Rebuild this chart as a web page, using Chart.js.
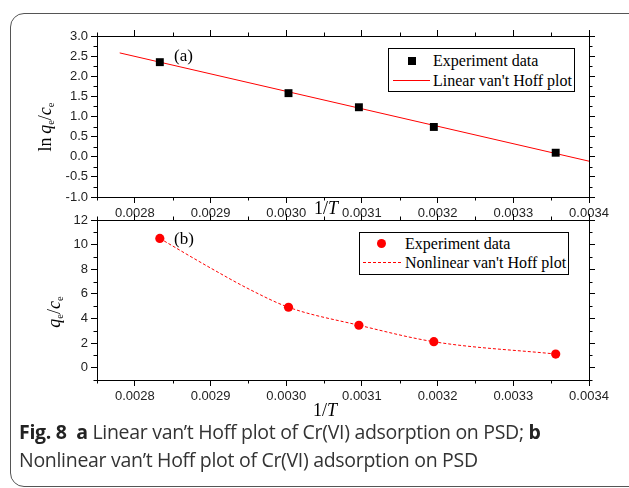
<!DOCTYPE html>
<html>
<head>
<meta charset="utf-8">
<script src="https://cdn.jsdelivr.net/npm/chart.js@4.4.1/dist/chart.umd.min.js"></script>
<style>
html,body{margin:0;padding:0;background:#fff;}
#wrap{position:relative;width:629px;height:488px;overflow:hidden;background:#fff;}
.frame{position:absolute;left:10px;top:13px;width:640px;height:472px;border:1.3px solid #555;border-radius:14px;}
canvas{position:absolute;left:0;}
.t{position:absolute;font-family:"Liberation Serif","Times New Roman",serif;color:#000;white-space:nowrap;line-height:1;}
.t sub{font-size:58%;vertical-align:-0.25em;}
.rot{transform:translate(-50%,-50%) rotate(-90deg);}
.ctr{transform:translate(-50%,-50%);}
.leg{position:absolute;border:1px solid #000;background:#fff;}
.cap{position:absolute;left:19px;font-family:"Open Sans","Noto Sans",sans-serif;font-size:19.5px;color:#333;line-height:27px;white-space:nowrap;letter-spacing:-0.3px;}
.cap b{font-weight:700;color:#222;}
</style>
</head>
<body>
<div id="wrap">
  <div class="frame"></div>
  <canvas id="ca" width="629" height="230" style="top:0px"></canvas>
  <canvas id="cb" width="629" height="230" style="top:200px"></canvas>

  <div class="t rot" style="left:46px;top:127px;font-size:18px">ln&thinsp;<i>q</i><sub>e</sub>/<i>c</i><sub>e</sub></div>
  <div class="t rot" style="left:55px;top:312px;font-size:18px"><i>q</i><sub>e</sub>/<i>c</i><sub>e</sub></div>
  <div class="t ctr" style="left:326px;top:208px;font-size:18px">1/<i>T</i></div>
  <div class="t ctr" style="left:325px;top:410px;font-size:18px">1/<i>T</i></div>
  <div class="t" style="left:174px;top:47px;font-size:17px">(a)</div>
  <div class="t" style="left:174px;top:230px;font-size:17px">(b)</div>

  <div class="leg" style="left:388px;top:48px;width:185px;height:42px">
    <div style="position:absolute;left:19px;top:8px;width:8px;height:8px;background:#000"></div>
    <div class="t" style="left:44px;top:4px;font-size:16px">Experiment data</div>
    <div style="position:absolute;left:4px;top:31px;width:37px;height:1px;background:#f00"></div>
    <div class="t" style="left:44px;top:24px;font-size:16px">Linear van't Hoff plot</div>
  </div>
  <div class="leg" style="left:359px;top:232px;width:208px;height:41px">
    <div style="position:absolute;left:17px;top:6px;width:9px;height:9px;border-radius:50%;background:#f00"></div>
    <div class="t" style="left:45px;top:3px;font-size:16px">Experiment data</div>
    <div style="position:absolute;left:3px;top:29px;width:38px;height:0;border-top:1px dashed #f00"></div>
    <div class="t" style="left:45px;top:22px;font-size:16px">Nonlinear van't Hoff plot</div>
  </div>

  <div class="cap" style="top:418px"><b>Fig. 8</b>&nbsp; <b>a</b> Linear van’t Hoff plot of Cr(VI) adsorption on PSD; <b>b</b></div>
  <div class="cap" style="top:446px">Nonlinear van’t Hoff plot of Cr(VI) adsorption on PSD</div>
</div>

<script>
// data
const invT=[0.002833,0.003003,0.003096,0.003195,0.003356];
const lnK=[2.35,1.58,1.23,0.74,0.10];
const linX=[0.00278,0.0034];
const linY=[2.58,-0.11];
const K=[10.5,4.91,3.45,2.11,1.11];
const curveX=[0.002833,0.0029,0.002952,0.003003,0.003096,0.003195,0.003356];
const curveY=[10.5,8.1,6.35,4.91,3.45,2.11,1.11];

const xTicks=[0.0028,0.0029,0.0030,0.0031,0.0032,0.0033,0.0034];
const xMinor=[0.00275,0.00285,0.00295,0.00305,0.00315,0.00325,0.00335];
const yTicksA=[-1.0,-0.5,0.0,0.5,1.0,1.5,2.0,2.5,3.0];
const yMinorA=[-0.75,-0.25,0.25,0.75,1.25,1.75,2.25,2.75];
const yTicksB=[0,2,4,6,8,10,12];
const yMinorB=[-1,1,3,5,7,9,11];

Chart.defaults.font.family='"Liberation Sans", Arial, sans-serif';
Chart.defaults.font.size=13;
Chart.defaults.color='#222';

const pts=(xs,ys)=>xs.map((x,i)=>({x:x,y:ys[i]}));

// short minor ticks, placed with the chart's scales
const minorTicks={
  id:'minorTicks',
  afterDraw(chart,args,opts){
    const ctx=chart.ctx;
    ctx.save();ctx.strokeStyle='#000';ctx.lineWidth=1;
    ctx.beginPath();
    Object.keys(opts.sets||{}).forEach(id=>{
      const sc=chart.scales[id];
      opts.sets[id].forEach(v=>{
        const p=Math.round(sc.getPixelForValue(v))+0.5;
        if(sc.position==='bottom'){ctx.moveTo(p,sc.top);ctx.lineTo(p,sc.top+3.5);}
        else if(sc.position==='top'){ctx.moveTo(p,sc.bottom);ctx.lineTo(p,sc.bottom-3.5);}
        else if(sc.position==='left'){ctx.moveTo(sc.right,p);ctx.lineTo(sc.right-3.5,p);}
        else {ctx.moveTo(sc.left,p);ctx.lineTo(sc.left+3.5,p);}
      });
    });
    ctx.stroke();ctx.restore();
  }
};

function axis(pos,min,max,ticks,size,labels,fmt){
  return {
    type:'linear',position:pos,min:min,max:max,
    afterBuildTicks:s=>{s.ticks=ticks.map(v=>({value:v}));},
    afterFit:s=>{if(pos==='left'||pos==='right')s.width=size;else s.height=size;},
    grid:{drawOnChartArea:false,drawTicks:true,tickLength:6,color:'#000',tickColor:'#000'},
    border:{display:true,color:'#000',width:1},
    ticks:{display:labels,padding:3,maxRotation:0,autoSkip:false,callback:v=>fmt?fmt(v):''}
  };
}

function makeChart(id,datasets,yMin,yMax,yTicks,yMinor,yFmt,topH,botH){
  return new Chart(document.getElementById(id),{
    type:'scatter',
    data:{datasets:datasets},
    options:{
      responsive:false,animation:false,devicePixelRatio:1,
      layout:{padding:0},
      plugins:{legend:{display:false},tooltip:{enabled:false},
        minorTicks:{sets:{x:xMinor,x2:xMinor,y:yMinor,y2:yMinor}}},
      scales:{
        x:axis('bottom',0.00275,0.0034,xTicks,botH,true,v=>v.toFixed(4)),
        x2:axis('top',0.00275,0.0034,xTicks,topH,false,null),
        y:axis('left',yMin,yMax,yTicks,97,true,yFmt),
        y2:axis('right',yMin,yMax,yTicks,40,false,null)
      }
    },
    plugins:[minorTicks]
  });
}

makeChart('ca',[
  {data:pts(linX,linY),showLine:true,borderColor:'#ff0000',borderWidth:1,pointRadius:0,order:2},
  {data:pts(invT,lnK),pointStyle:'rect',pointRadius:5.6,backgroundColor:'#000',borderColor:'#000',borderWidth:0,order:1}
],-1,3,yTicksA,yMinorA,v=>v.toFixed(1),36,33);

makeChart('cb',[
  {data:pts(curveX,curveY),showLine:true,borderColor:'#ff0000',borderWidth:1,borderDash:[3,2],
   cubicInterpolationMode:'monotone',pointRadius:0,order:2},
  {data:pts(invT,K),pointStyle:'circle',pointRadius:4.6,backgroundColor:'#ff0000',borderColor:'#ff0000',borderWidth:0,order:1}
],-1,12,yTicksB,yMinorB,v=>String(v),20,50);
</script>
</body>
</html>
